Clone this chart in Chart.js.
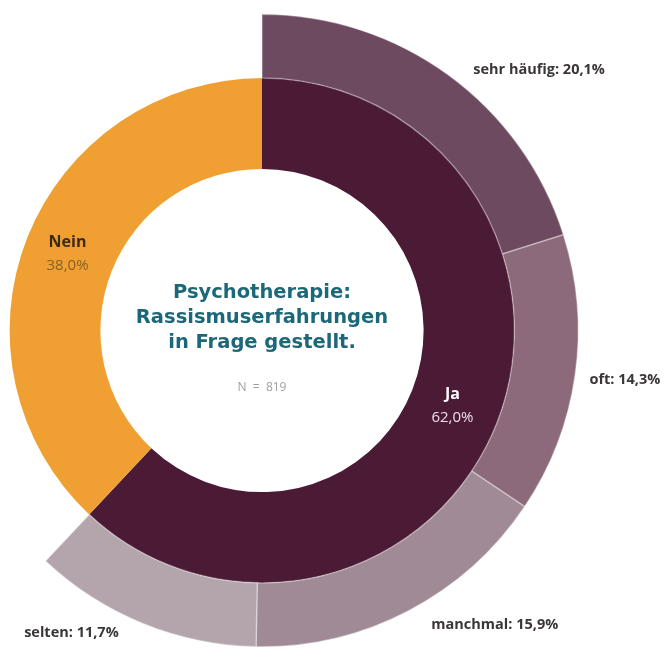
<!DOCTYPE html>
<html>
<head>
<meta charset="utf-8">
<script src="https://cdn.jsdelivr.net/npm/chart.js@4.4.1/dist/chart.umd.min.js"></script>
<style>
  html, body { margin: 0; padding: 0; background: #fff; overflow: hidden; }
  #wrap { position: absolute; left: -55px; top: 0; width: 721px; height: 648px; }
</style>
</head>
<body>
<div id="wrap"><canvas id="chart"></canvas></div>
<script>
// inner ring: Ja / Nein
const mainLabels = ['Ja', 'Nein'];
const mainValues = [62.0, 38.0];
// outer ring: breakdown of "Ja"
const subLabels = ['sehr häufig', 'oft', 'manchmal', 'selten'];
const subValues = [20.1, 14.3, 15.9, 11.7];
const sampleSize = 819;
const centerTitle = ['Psychotherapie:', 'Rassismuserfahrungen', 'in Frage gestellt.'];

const fmt = v => v.toFixed(1).replace('.', ',') + '%';

const mainColors = ['#4b1a35', '#f0a032'];
const subColors = ['#6d4a5f', '#8c6a7b', '#a08a95', '#b4a5ad'];

// nudges for the outer labels: [angle shift in degrees, distance beyond the ring]
const subLabelNudge = [[10.6, 64], [-0.3, 50], [-10.8, 59], [10.1, 41]];

const labelPlugin = {
  id: 'labelPlugin',
  afterDraw(chart) {
    const ctx = chart.ctx;
    ctx.save();
    ctx.textAlign = 'center';
    ctx.textBaseline = 'middle';

    // outer labels
    const outer = chart.getDatasetMeta(0).data;
    subLabels.forEach((name, i) => {
      const p = outer[i].getProps(['x', 'y', 'startAngle', 'endAngle', 'outerRadius']);
      const a = (p.startAngle + p.endAngle) / 2 + subLabelNudge[i][0] * Math.PI / 180;
      const r = p.outerRadius + subLabelNudge[i][1];
      ctx.font = 'bold 14.5px "Open Sans"';
      ctx.fillStyle = '#3a3538';
      ctx.fillText(name + ': ' + fmt(subValues[i]), p.x + r * Math.cos(a), p.y + r * Math.sin(a));
    });

    // inner labels
    const inner = chart.getDatasetMeta(1).data;
    mainLabels.forEach((name, i) => {
      const pos = inner[i].tooltipPosition();
      const light = i === 0;
      ctx.font = 'bold 16px "Open Sans"';
      ctx.fillStyle = light ? '#ffffff' : '#3b2a17';
      ctx.fillText(name, pos.x - 2, pos.y - 12);
      ctx.font = '15px "Open Sans"';
      ctx.fillStyle = light ? '#eedde6' : '#8a5f22';
      ctx.fillText(fmt(mainValues[i]), pos.x - 2, pos.y + 11);
    });

    // centre text
    const c = inner[0].getProps(['x', 'y']);
    ctx.font = 'bold 19.5px "DejaVu Sans"';
    ctx.fillStyle = '#1d6878';
    centerTitle.forEach((line, i) => {
      ctx.fillText(line, c.x, c.y - 38 + i * 25);
    });
    ctx.font = '12px "Open Sans"';
    ctx.fillStyle = '#a0a0a0';
    ctx.fillText('N  =  ' + sampleSize, c.x, c.y + 57);
    ctx.restore();
  }
};

const jaRest = mainValues[1];

new Chart(document.getElementById('chart'), {
  type: 'doughnut',
  data: {
    labels: subLabels.concat(['']),
    datasets: [
      {
        data: subValues.concat([jaRest]),
        backgroundColor: subColors.concat(['rgba(0,0,0,0)']),
        borderColor: ['rgba(255,255,255,0.35)', 'rgba(255,255,255,0.35)', 'rgba(255,255,255,0.35)', 'rgba(255,255,255,0.35)', 'rgba(0,0,0,0)'],
        borderWidth: 1.5,
        weight: 64
      },
      {
        data: mainValues,
        backgroundColor: mainColors,
        borderWidth: 0,
        weight: 91
      }
    ]
  },
  options: {
    responsive: true,
    maintainAspectRatio: false,
    animation: false,
    cutout: '51.1%',
    layout: { padding: { left: 0, right: 87, top: 13, bottom: 0 } },
    plugins: {
      legend: { display: false },
      tooltip: { enabled: false }
    }
  },
  plugins: [labelPlugin]
});
</script>
</body>
</html>
